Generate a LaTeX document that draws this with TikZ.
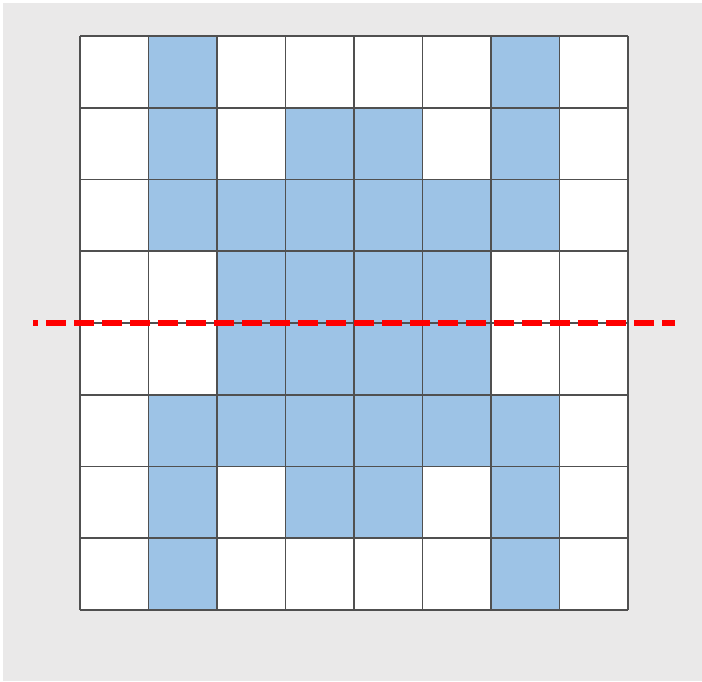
\documentclass[tikz,border=0pt]{standalone}
\usepackage{tikz}
\definecolor{cellblue}{HTML}{9DC3E6}
\definecolor{bggray}{HTML}{EAE9E9}
\definecolor{gridgray}{HTML}{505050}

\begin{document}
\begin{tikzpicture}[x=1pt, y=-1pt]
    % Background
    \fill[white] (0, 0) rectangle (702, 681);
    \fill[bggray] (3, 3) rectangle (702, 681);
    \useasboundingbox (0, 0) rectangle (702, 681);

    % White board
    \fill[white] (80, 36) rectangle (628, 610);

    % Blue cells (column, row)
    \foreach \c/\r in {1/0, 6/0,
                       1/1, 3/1, 4/1, 6/1,
                       1/2, 2/2, 3/2, 4/2, 5/2, 6/2,
                       2/3, 3/3, 4/3, 5/3,
                       2/4, 3/4, 4/4, 5/4,
                       1/5, 2/5, 3/5, 4/5, 5/5, 6/5,
                       1/6, 3/6, 4/6, 6/6,
                       1/7, 6/7}
        \fill[cellblue] ({80 + 68.5*\c}, {36 + 71.75*\r}) rectangle ++(68.5, 71.75);

    % Grid
    \foreach \i in {0, ..., 8} {
        \draw[gridgray, line width=1.6pt] ({80 + 68.5*\i}, 36) -- ({80 + 68.5*\i}, 610);
        \draw[gridgray, line width=1.6pt] (80, {36 + 71.75*\i}) -- (628, {36 + 71.75*\i});
    }

    % Red dashed line
    \coordinate (L) at (33, 323);
    \coordinate (R) at (675, 323);
    \draw[red, line width=6pt, dash pattern=on 20pt off 8pt, dash phase=15pt] (L) -- (R);
\end{tikzpicture}
\end{document}
